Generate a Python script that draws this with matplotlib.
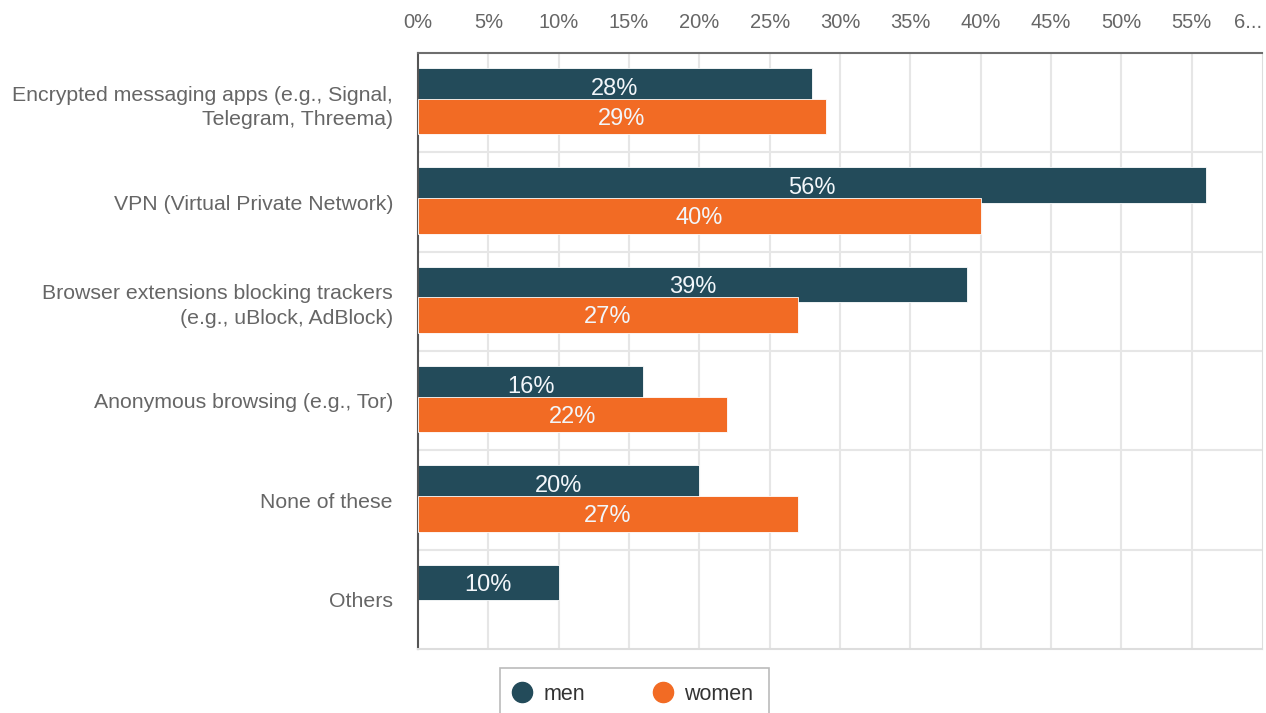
import matplotlib
matplotlib.use("Agg")
import matplotlib.pyplot as plt
import numpy as np
from matplotlib.lines import Line2D

plt.rcParams["font.family"] = ["Liberation Sans", "DejaVu Sans"]

# --- data ---
categories = [
    "Encrypted messaging apps (e.g., Signal,\nTelegram, Threema)",
    "VPN (Virtual Private Network)",
    "Browser extensions blocking trackers\n(e.g., uBlock, AdBlock)",
    "Anonymous browsing (e.g., Tor)",
    "None of these",
    "Others",
]
men = [28, 56, 39, 16, 20, 10]
women = [29, 40, 27, 22, 27, None]
xticks = [0, 5, 10, 15, 20, 25, 30, 35, 40, 45, 50, 55, 60]
xtick_labels = ["0%", "5%", "10%", "15%", "20%", "25%", "30%", "35%",
                "40%", "45%", "50%", "55%", "6..."]

MEN_COLOR = "#234b5a"
WOMEN_COLOR = "#f26b24"
TEXT_GRAY = "#666666"
GRID = "#e6e6e6"
BAR_TEXT = "#f2f6fa"

W, H = 1266, 713
fig = plt.figure(figsize=(W / 100, H / 100), dpi=100)
ax = fig.add_axes([418 / W, 1 - 649 / H, (1262 - 418) / W, (649 - 53) / H])

centers = np.arange(len(categories)) + 0.5
bar_h = 0.36
men_y = centers - 0.17
women_y = centers + 0.14

ax.barh(men_y, men, height=bar_h, color=MEN_COLOR, edgecolor="#ffffff",
        linewidth=0.6, zorder=2)
for y, v in zip(men_y, men):
    ax.text(v / 2, y + 0.03, f"{v}%", ha="center", va="center",
            fontsize=17, color=BAR_TEXT, zorder=3)

w_idx = [i for i, v in enumerate(women) if v is not None]
w_vals = [women[i] for i in w_idx]
ax.barh(women_y[w_idx], w_vals, height=bar_h, color=WOMEN_COLOR,
        edgecolor="#ffffff", linewidth=0.6, zorder=4)
for i, v in zip(w_idx, w_vals):
    ax.text(v / 2, women_y[i] + 0.02, f"{v}%", ha="center", va="center",
            fontsize=17, color=BAR_TEXT, zorder=5)

ax.set_xlim(0, 60)
ax.set_ylim(len(categories), 0)

# grid: verticals at each tick, horizontals between categories
for x in xticks[1:-1]:
    ax.axvline(x, color=GRID, lw=1.5, zorder=0)
for y in range(1, len(categories)):
    ax.axhline(y, color=GRID, lw=1.5, zorder=0)

ax.xaxis.tick_top()
ax.set_xticks(xticks)
ax.set_xticklabels(xtick_labels)
ax.tick_params(axis="x", length=0, pad=15, labelsize=14.5, labelcolor=TEXT_GRAY)
ax.get_xticklabels()[-1].set_horizontalalignment("right")

ax.set_yticks(centers)
ax.set_yticklabels(categories, linespacing=1.35)
ax.tick_params(axis="y", length=0, pad=18, labelsize=15.3, labelcolor=TEXT_GRAY)

ax.spines["top"].set_color("#6e6e6e")
ax.spines["top"].set_linewidth(1.5)
ax.spines["left"].set_color("#555555")
ax.spines["left"].set_linewidth(1.5)
ax.spines["right"].set_color("#dddddd")
ax.spines["bottom"].set_color("#dddddd")
ax.spines["bottom"].set_linewidth(1.5)

handles = [
    Line2D([], [], marker="o", ls="none", color=MEN_COLOR, markersize=14.5),
    Line2D([], [], marker="o", ls="none", color=WOMEN_COLOR, markersize=14.5),
]
leg = fig.legend(handles, ["men", "women"], loc="upper left",
                 bbox_to_anchor=(500 / W, 1 - 668 / H), borderaxespad=0,
                 ncol=2, frameon=True, fancybox=False, edgecolor="#aaaaaa",
                 fontsize=15.5, handlelength=0.6, handletextpad=0.7,
                 columnspacing=3.3, borderpad=0.72, labelcolor="#333333")
leg.get_frame().set_linewidth(1.2)

fig.savefig("out.png", dpi=100)
